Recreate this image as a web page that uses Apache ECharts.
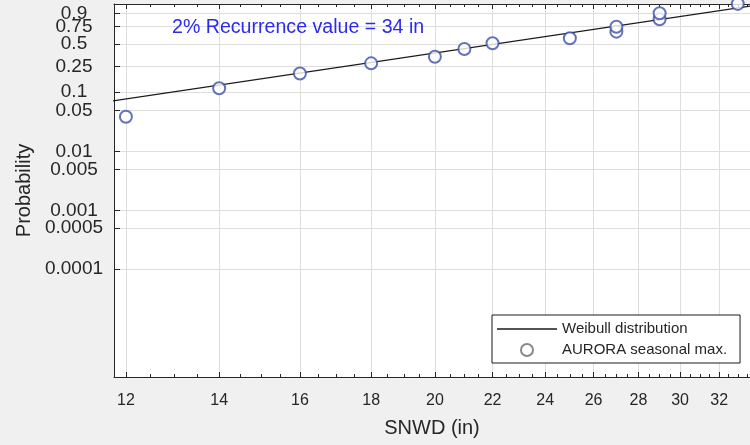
<!DOCTYPE html>
<html>
<head>
<meta charset="utf-8">
<script src="https://cdn.jsdelivr.net/npm/echarts@6/dist/echarts.min.js"></script>
<style>
html,body{margin:0;padding:0;background:#f0f0f0;}
#c{width:750px;height:445px;}
</style>
</head>
<body>
<div id="c"></div>
<script>
// ---- data ----
const snwd = [12, 14, 16, 18, 20, 21, 22, 25, 27, 27, 29, 29, 33];
const prob = [0.039, 0.115, 0.196, 0.278, 0.345, 0.436, 0.512, 0.582, 0.678, 0.748, 0.842, 0.903, 0.966];
const fitX = [11.7, 34];
const fitP = [0.0707, 0.9597];
const xTicks = [12, 14, 16, 18, 20, 22, 24, 26, 28, 30, 32];
const yTicks = [0.0001, 0.0005, 0.001, 0.005, 0.01, 0.05, 0.1, 0.25, 0.5, 0.75, 0.9];
const annotation = '2% Recurrence value = 34 in';
const xName = 'SNWD (in)';
const yName = 'Probability';
const fitName = 'Weibull distribution';
const obsName = 'AURORA seasonal max.';

// ---- scale transforms (log x, Weibull probability y) ----
const tx = v => Math.log(v);
const ty = p => Math.log(-Math.log(1 - p));

const xMinor = [];
for (let v = 12; v <= 33.5; v += 0.5) { if (v % 2 !== 0) xMinor.push(v); }

const FONT = '"Liberation Sans", Arial, Helvetica, sans-serif';
const INK = '#262626';

const xMin = 2.46522, xMax = 3.51673;
const yMin = -13.4709, yMax = 1.2142;

const baseX = (pos) => ({
  type: 'value', min: xMin, max: xMax, position: pos,
  axisLine: {show: false, onZero: false}, axisTick: {show: false}, axisLabel: {show: false}, splitLine: {show: false}
});

const xAxes = [
  Object.assign(baseX('bottom'), {
    axisLine: {show: true, onZero: false, lineStyle: {color: INK, width: 1}},
    axisTick: {show: true, inside: true, length: 5, customValues: xTicks.map(tx), lineStyle: {color: INK}},
    axisLabel: {show: true, customValues: xTicks.map(tx), margin: 24, verticalAlign: 'middle',
      fontSize: 16, fontFamily: FONT, color: INK, hideOverlap: false,
      formatter: v => String(Math.round(Math.exp(v)))},
    splitLine: {show: true, lineStyle: {color: '#dedede', width: 1}},
    name: xName, nameLocation: 'middle', nameGap: 51,
    nameTextStyle: {fontSize: 20, fontFamily: FONT, color: INK, verticalAlign: 'middle'}
  }),
  Object.assign(baseX('bottom'), {
    axisTick: {show: true, inside: true, length: 3, customValues: xMinor.map(tx), lineStyle: {color: INK}}
  }),
  Object.assign(baseX('top'), {
    axisLine: {show: true, onZero: false, lineStyle: {color: INK, width: 1}},
    axisTick: {show: true, inside: true, length: 5, customValues: xTicks.map(tx), lineStyle: {color: INK}}
  }),
  Object.assign(baseX('top'), {
    axisTick: {show: true, inside: true, length: 3, customValues: xMinor.map(tx), lineStyle: {color: INK}}
  })
];

// y labels split over two overlaid axes so that close labels (0.9 / 0.75) are both kept
const yLabelsA = yTicks.filter((p, i) => (yTicks.length - 1 - i) % 2 === 0);
const yLabelsB = yTicks.filter((p, i) => (yTicks.length - 1 - i) % 2 === 1);
const yFmt = v => {
  const p = yTicks.find(q => Math.abs(ty(q) - v) < 1e-6);
  return p === undefined ? '' : String(p);
};
const yLabelStyle = {margin: 40, align: 'center', fontSize: 19, fontFamily: FONT, color: INK,
  hideOverlap: false, formatter: yFmt};

const chart = echarts.init(document.getElementById('c'), null, {renderer: 'canvas'});
chart.setOption({
  backgroundColor: '#f0f0f0',
  animation: false,
  grid: {left: 114, top: 4, width: 641, height: 373, show: true, backgroundColor: '#ffffff', borderWidth: 0},
  xAxis: xAxes,
  yAxis: [{
    type: 'value', min: yMin, max: yMax, position: 'left',
    axisLine: {show: true, onZero: false, lineStyle: {color: INK, width: 1}},
    axisTick: {show: true, inside: true, length: 6, customValues: yTicks.map(ty), lineStyle: {color: INK}},
    axisLabel: Object.assign({show: true, customValues: yLabelsA.map(ty)}, yLabelStyle),
    splitLine: {show: true, lineStyle: {color: '#dedede', width: 1}},
    name: yName, nameLocation: 'middle', nameGap: 87,
    nameTextStyle: {fontSize: 20, fontFamily: FONT, color: INK, verticalAlign: 'middle'}
  }, {
    type: 'value', min: yMin, max: yMax, position: 'left', offset: 0,
    axisLine: {show: false, onZero: false},
    axisTick: {show: false},
    axisLabel: Object.assign({show: true, customValues: yLabelsB.map(ty)}, yLabelStyle),
    splitLine: {show: false}
  }],
  legend: {
    left: 492, top: 315, orient: 'vertical',
    backgroundColor: '#ffffff', borderColor: '#1a1a1a', borderWidth: 1, borderRadius: 0,
    padding: [6, 13, 5, 5], itemGap: 5, itemWidth: 60, itemHeight: 12, itemTextGap: 5,
    textStyle: {fontSize: 15, fontFamily: FONT, color: INK, lineHeight: 16},
    data: [
      {name: fitName, icon: 'path://M0,0L60,0L60,1.3L0,1.3Z'},
      {name: obsName, icon: 'emptyCircle', itemStyle: {color: '#6a6a6a', borderColor: '#6a6a6a', borderWidth: 1.2}}
    ]
  },
  graphic: [{
    type: 'text', left: 172, top: 18, z: 100,
    style: {text: annotation, fontSize: 19.6, fontFamily: FONT, fill: '#2a2af0'}
  }],
  series: [
    {
      name: fitName, type: 'line', xAxisIndex: 0, yAxisIndex: 0,
      data: fitX.map((v, i) => [tx(v), ty(fitP[i])]),
      symbol: 'none', clip: true,
      lineStyle: {color: '#1a1a1a', width: 1.3},
      itemStyle: {color: '#1a1a1a'}
    },
    {
      name: obsName, type: 'scatter', xAxisIndex: 0, yAxisIndex: 0,
      data: snwd.map((v, i) => [tx(v), ty(prob[i])]),
      symbol: 'emptyCircle', symbolSize: 12, clip: false,
      itemStyle: {color: '#3c50a8', borderColor: '#3c50a8', borderWidth: 1.3},
      z: 3
    }
  ]
});
</script>
</body>
</html>
